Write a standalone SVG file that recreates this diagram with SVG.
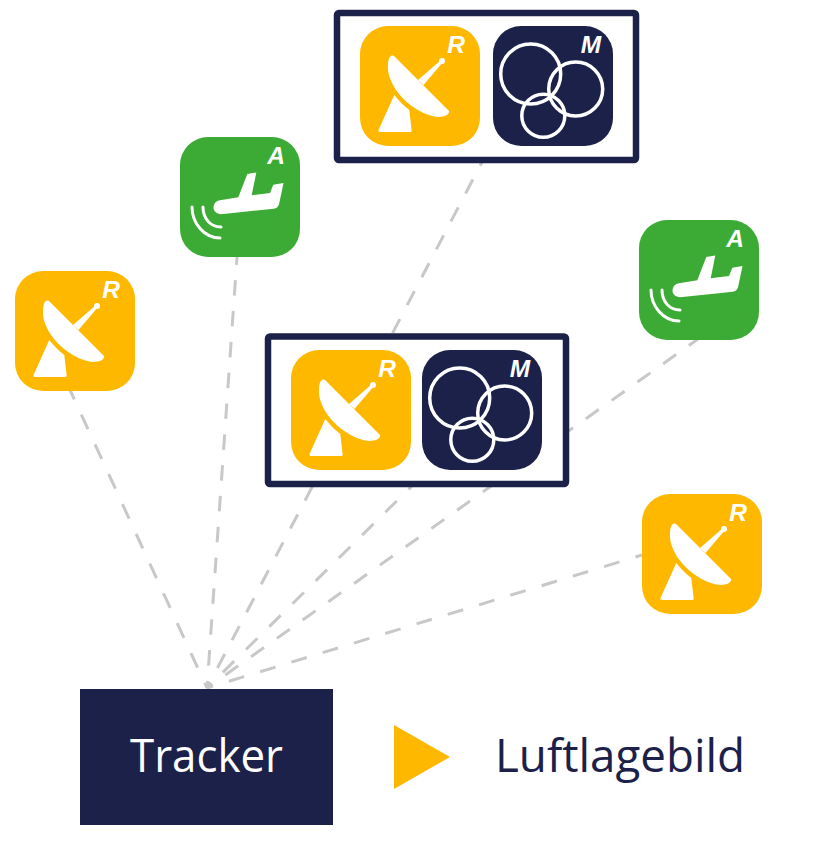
<svg xmlns="http://www.w3.org/2000/svg" width="814" height="859" viewBox="0 0 814 859">
<style>
.c{fill:none;stroke:#c8c8c8;stroke-width:3}
.frame{fill:#fff;stroke:#1b2149;stroke-width:6.5}
.amber{fill:#ffb800}.navy{fill:#1b2149}.green{fill:#3cab35}
.w{fill:#fff}
.ring{fill:none;stroke:#fff;stroke-width:3.5}
.arc{fill:none;stroke:#fff;stroke-width:3;stroke-linecap:round}
.tag{font-family:"Liberation Sans",Arial,sans-serif;font-weight:bold;font-style:italic;font-size:24.5px;fill:#fff;text-anchor:middle}
.big{font-family:"Open Sans","Noto Sans",sans-serif}
</style>
<defs>
<g id="radar">
<rect width="120" height="120" rx="28" class="amber"/>
<path class="w" d="M31 30C33 29 34 30 35 31L89 85C90 88 85 91 78 91C52 88 26 60 28 39C28 35 29 31 31 30Z"/>
<path class="w" d="M58 54L81 34 83 36 63.500 59Z"/>
<circle class="w" cx="82" cy="35" r="3"/>
<path class="w" d="M34.300 69C39 75 44 80 49.300 84L51.700 105Q51.700 106 50 106H20Q18 106 18.500 104Z"/>
</g>
<g id="mesh">
<rect width="120" height="120" rx="28" class="navy"/>
<circle class="ring" cx="37.700" cy="48" r="30"/>
<circle class="ring" cx="82.700" cy="63" r="27"/>
<circle class="ring" cx="50.300" cy="89.700" r="21.500"/>
</g>
<g id="plane">
<rect width="120" height="120" rx="28" class="green"/>
<path class="w" d="M40 63.300L58.300 60.300 67.300 37 76.300 35.500 71.700 58.300 90 56 93.300 47.700 103.500 46 99.300 66Q98.500 71 94 71.700L43.300 77C36 78 32 73 34 68C35 65 37 63.800 40 63.300Z"/>
<path class="arc" d="M12 70C12 86 24 101 40 101"/>
<path class="arc" d="M23 70C23 81 30 90 41 90"/>
</g>
</defs>
<g id="connectors">
<path class="c" stroke-dasharray="16 16.800" stroke-dashoffset="10.300" d="M207 688L70 390"/>
<path class="c" stroke-dasharray="15.500 15.400" stroke-dashoffset="8.400" d="M207 688L237 257"/>
<path class="c" stroke-dasharray="15.800 15.700" stroke-dashoffset="9" d="M207 688L482 162"/>
<path class="c" stroke-dasharray="15.800 15.800" stroke-dashoffset="9.100" d="M207 688L698 339"/>
<path class="c" stroke-dasharray="16 16.700" stroke-dashoffset="9.800" d="M207 688L642 555"/>
<path class="c" stroke-dasharray="16 16.600" stroke-dashoffset="10.400" d="M207 688L415 483"/>
</g>
<g id="group-top">
<rect class="frame" x="337" y="13" width="299" height="147" rx="2"/>
<use href="#radar" x="360" y="26"/>
<text class="tag" x="456" y="53">R</text>
<use href="#mesh" x="493" y="26"/>
<text class="tag" x="591" y="53">M</text>
</g>
<g id="group-mid">
<rect class="frame" x="268" y="336.500" width="298" height="147.500" rx="2"/>
<use href="#radar" x="291" y="350"/>
<text class="tag" x="387" y="377">R</text>
<use href="#mesh" x="422" y="350"/>
<text class="tag" x="520" y="377">M</text>
</g>
<g id="plane-left">
<use href="#plane" x="180" y="137"/>
<text class="tag" x="276" y="164">A</text>
</g>
<g id="plane-right">
<use href="#plane" x="639" y="220"/>
<text class="tag" x="735" y="247">A</text>
</g>
<g id="radar-left">
<use href="#radar" x="15" y="271"/>
<text class="tag" x="111" y="298">R</text>
</g>
<g id="radar-right">
<use href="#radar" x="642" y="494"/>
<text class="tag" x="738" y="521">R</text>
</g>
<g id="tracker">
<rect class="navy" x="80" y="689" width="253" height="136"/>
<text class="big" x="130" y="772" font-size="46" fill="#fff" textLength="153" lengthAdjust="spacingAndGlyphs">Tracker</text>
</g>
<g id="output">
<path class="amber" d="M394 725L450 757 394 789Z"/>
<text class="big navy" x="495" y="772" font-size="46" textLength="250" lengthAdjust="spacingAndGlyphs">Luftlagebild</text>
</g>
</svg>
